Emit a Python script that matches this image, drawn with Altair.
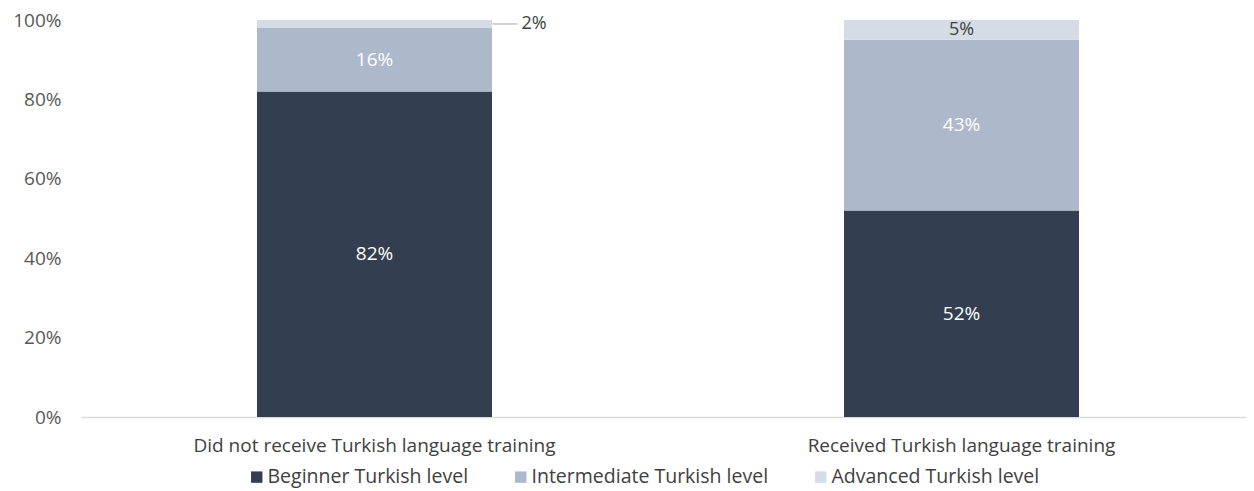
import altair as alt
import pandas as pd

categories = ["Did not receive Turkish language training", "Received Turkish language training"]
levels = ["Beginner Turkish level", "Intermediate Turkish level", "Advanced Turkish level"]
beginner = [82, 52]
intermediate = [16, 43]
advanced = [2, 5]
colors = ["#333F50", "#ADB9CA", "#D6DCE5"]

rows = []
for i, c in enumerate(categories):
    vals = [beginner[i], intermediate[i], advanced[i]]
    start = 0
    for j, lv in enumerate(levels):
        v = vals[j]
        rows.append({"cat": c, "level": lv, "order": j, "v": v,
                     "y0": start, "y1": start + v, "mid": start + v / 2,
                     "label": f"{v}%"})
        start += v
df = pd.DataFrame(rows)

FONT = "Open Sans"
FS = 19
x = alt.X("cat:N", sort=categories, title=None,
          scale=alt.Scale(paddingInner=0, paddingOuter=0, range=[0, 1174]),
          axis=alt.Axis(labelAngle=0, labelFontSize=FS, labelColor="#404040", labelLimit=0,
                        labelFont=FONT, domainColor="#D9D9D9", domainWidth=1.5, ticks=False,
                        labelPadding=19))

bars = alt.Chart(df).mark_bar(size=235).encode(
    x=x,
    y=alt.Y("y0:Q", title=None, scale=alt.Scale(domain=[0, 100], nice=False),
            axis=alt.Axis(values=[0, 20, 40, 60, 80, 100], labelExpr="datum.value + '%'",
                          grid=False, domain=False, ticks=False, labelFontSize=FS,
                          labelColor="#595959", labelFont=FONT, labelPadding=20)),
    y2="y1:Q",
    color=alt.Color("level:N", sort=levels,
                    scale=alt.Scale(domain=levels, range=colors),
                    legend=alt.Legend(title=None, orient="none", direction="horizontal",
                                      legendX=166, legendY=447,
                                      symbolType="square", symbolSize=130, labelFontSize=19.5,
                                      labelFont=FONT, labelColor="#404040", columnPadding=42,
                                      labelOffset=1, labelLimit=0, symbolStrokeWidth=0)),
    order=alt.Order("order:Q"),
)

inside_white = alt.Chart(df).transform_filter("datum.v >= 10").mark_text(
    color="white", fontSize=FS, font=FONT).encode(
    x=alt.X("cat:N", sort=categories), y=alt.Y("mid:Q"), text="label:N")

inside_dark = alt.Chart(df).transform_filter("datum.v >= 3 && datum.v < 10").mark_text(
    color="#404040", fontSize=FS - 1, font=FONT).encode(
    x=alt.X("cat:N", sort=categories), y=alt.Y("mid:Q"), text="label:N")

outside = alt.Chart(df).transform_filter("datum.v < 3").mark_text(
    color="#404040", fontSize=FS - 1, font=FONT, align="left", dx=147).encode(
    x=alt.X("cat:N", sort=categories), y=alt.Y("mid:Q"), text="label:N")

leader = alt.Chart(df).transform_filter("datum.v < 3").mark_rule(
    color="#A6A6A6", strokeWidth=1, xOffset=118, x2Offset=143).encode(
    x=alt.X("cat:N", sort=categories), x2="cat:N", y=alt.Y("mid:Q"))

chart = alt.layer(bars, inside_white, inside_dark, leader, outside).properties(
    width=1165, height=397, autosize="none",
    padding={"left": 73, "top": 12, "right": 0, "bottom": 74}
).configure(font=FONT).configure_view(stroke=None)

chart.save("out.html", embed_options={"renderer": "svg", "actions": False})
